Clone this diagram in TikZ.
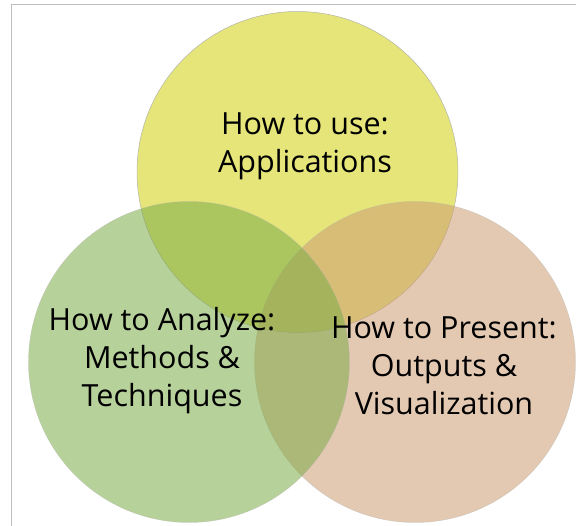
\documentclass[tikz,border=0pt]{standalone}
\usepackage{fontspec}
\setmainfont{Open Sans}
\definecolor{cyellow}{RGB}{229,229,122}
\definecolor{corange}{RGB}{206,157,115}
\definecolor{cgreen}{RGB}{124,171,73}
\definecolor{cframe}{RGB}{190,190,190}
\definecolor{cedge}{RGB}{180,180,170}
\begin{document}
\begin{tikzpicture}[x=1pt,y=-1pt,
  venn/.style={circle,minimum size=321pt,inner sep=0pt,draw=cedge,line width=0.5pt},
  lbl/.style={font=\fontsize{30.5}{38}\selectfont,align=center,text=black,inner sep=0pt}]
\useasboundingbox (0,0) rectangle (576,526);
\draw[cframe,line width=1.4pt] (11.5,526) -- (11.5,4.5) -- (576,4.5);
\node[venn,fill=cyellow] (use) at (297.5,172) {};
\node[venn,fill=corange,fill opacity=0.55,draw opacity=0.5] (present) at (415,362) {};
\node[venn,fill=cgreen,fill opacity=0.55,draw opacity=0.5] (analyze) at (189,362) {};
\node[lbl] (tuse) at (305,146) {How to use:\\Applications};
\node[lbl] (tanalyze) at (162,361) {How to Analyze:\\Methods \&\\Techniques};
\node[lbl] (tpresent) at (444,366) {How to Present:\\Outputs \&\\Visualization};
\end{tikzpicture}
\end{document}
